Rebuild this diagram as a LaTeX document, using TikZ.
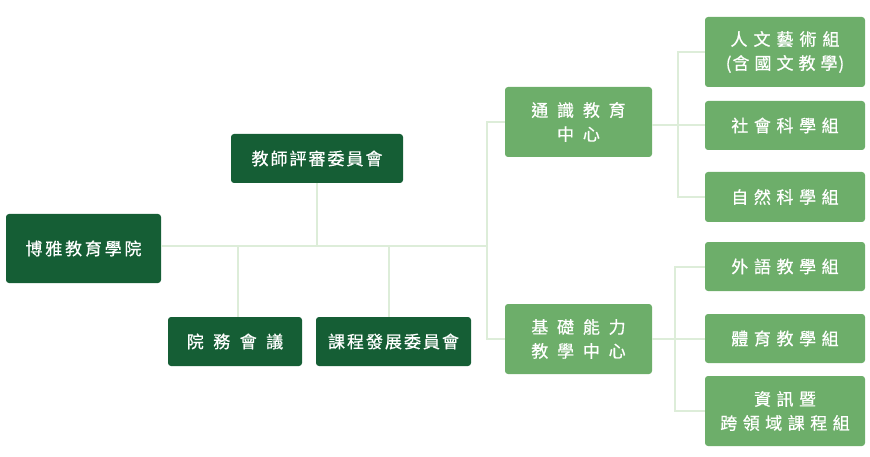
\documentclass[tikz,border=0pt]{standalone}
\usepackage{fontspec}
\newfontfamily\cjk[FakeBold=0.6]{Noto Sans CJK TC}
\definecolor{darkg}{HTML}{155E35}
\definecolor{lightg}{HTML}{6DAE6A}
\definecolor{linkg}{HTML}{DDEDD9}
\newdimen\lsk
\def\spacedi#1{\ifx#1\relax\else#1\kern\lsk\expandafter\spacedi\fi}
\newcommand\spc[2]{\lsk=#1\relax\spacedi#2\relax\unkern}
\tikzset{
  boxbase/.style={rounded corners=3pt, text=white, inner sep=0pt, align=center,
    font=\cjk\fontsize{17pt}{24pt}\selectfont},
  darkbox/.style={boxbase, fill=darkg},
  lightbox/.style={boxbase, fill=lightg},
  link/.style={draw=linkg, line width=2pt}
}
\begin{document}
\begin{tikzpicture}[x=1pt,y=-1pt]
\useasboundingbox (0,0) rectangle (870,457);
% left / dark boxes
\node[darkbox, minimum width=155pt, minimum height=69pt] (root) at (83.5,248.5) {\spc{2.8pt}{博雅教育學院}};
\node[darkbox, minimum width=172pt, minimum height=49pt] (jury) at (317,158.5) {\spc{2pt}{教師評審委員會}};
\node[darkbox, minimum width=134pt, minimum height=49pt] (affairs) at (235,341.5) {\spc{9.5pt}{院務會議}};
\node[darkbox, minimum width=155pt, minimum height=49pt] (curr) at (393.5,341.5) {\spc{2pt}{課程發展委員會}};
% middle
\node[lightbox, minimum width=147pt, minimum height=70pt] (ge) at (578.5,122) {\spc{8.8pt}{通識教育}\\\spc{8.8pt}{中心}};
\node[lightbox, minimum width=147pt, minimum height=70pt] (basic) at (578.5,339) {\spc{8.8pt}{基礎能力}\\\spc{8.8pt}{教學中心}};
% right column
\node[lightbox, minimum width=160pt, minimum height=70pt] (hum) at (785,52) {\spc{6pt}{人文藝術組}\\(\kern1pt\spc{5pt}{含國文教學}\kern1pt)};
\node[lightbox, minimum width=160pt, minimum height=49pt] (soc) at (785,125.5) {\spc{5.6pt}{社會科學組}};
\node[lightbox, minimum width=160pt, minimum height=50pt] (nat) at (785,197) {\spc{5.6pt}{自然科學組}};
\node[lightbox, minimum width=160pt, minimum height=49pt] (lang) at (785,266.5) {\spc{5.6pt}{外語教學組}};
\node[lightbox, minimum width=160pt, minimum height=49pt] (pe) at (785,338.5) {\spc{5.6pt}{體育教學組}};
\node[lightbox, minimum width=160pt, minimum height=70pt] (it) at (785,411) {\spc{5.5pt}{資訊暨}\\\spc{5.5pt}{跨領域課程組}};
% connectors
\coordinate (j0) at (487,246);
\draw[link] (root.east |- j0) -- (j0);
\draw[link] (jury.south) -- (jury.south |- j0);
\draw[link] ([xshift=3pt]affairs.north) -- ([xshift=3pt]affairs.north |- j0);
\draw[link] ([xshift=-4.5pt]curr.north) -- ([xshift=-4.5pt]curr.north |- j0);
\draw[link] (ge.west) -- ++(-18,0) |- (basic.west);
\draw[link] (ge.east |- soc.west) -- (soc.west);
\draw[link] (hum.west) -- ++(-27,0) |- (nat.west);
\draw[link] (basic.east |- pe.west) -- (pe.west);
\draw[link] (lang.west) -- ++(-30,0) |- (it.west);
\end{tikzpicture}
\end{document}
